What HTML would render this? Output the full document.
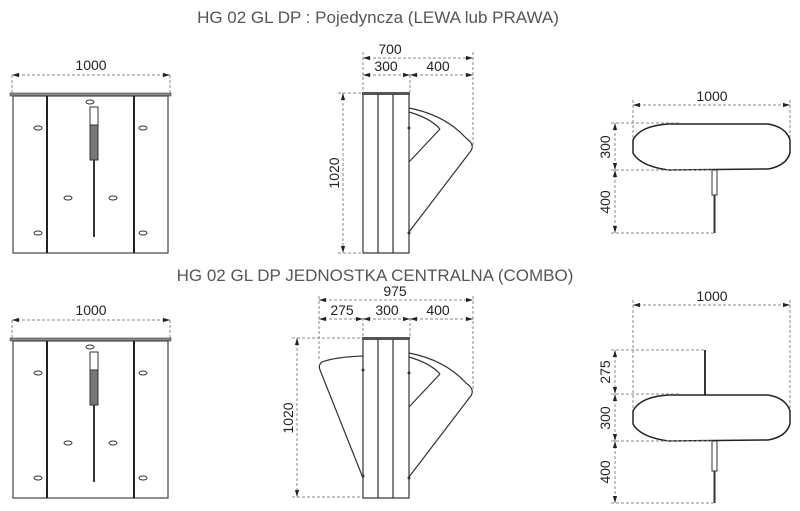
<!DOCTYPE html>
<html><head><meta charset="utf-8"><style>
html,body{margin:0;padding:0;background:#fff;}
svg{display:block;font-family:"Liberation Sans",Arial,sans-serif;}
.d{stroke:#888;stroke-width:1;stroke-dasharray:3,2;fill:none}
.l{stroke:#333;stroke-width:1.2;fill:none}
.t{font-size:14px;fill:#222}
.o{fill:#fff;stroke:#333;stroke-width:1}
</style></head><body>
<svg width="800" height="511" viewBox="0 0 800 511" xmlns="http://www.w3.org/2000/svg">
<defs>
<marker id="a" viewBox="0 0 10 10" refX="10" refY="5" markerWidth="7" markerHeight="7" orient="auto-start-reverse"><path d="M0,2L10,5L0,8z" fill="#222"/></marker>
<g id="front">
  <line class="d" x1="12" y1="75" x2="12" y2="94"/><line class="d" x1="170" y1="75" x2="170" y2="94"/>
  <line class="d" x1="12" y1="75" x2="170" y2="75" marker-start="url(#a)" marker-end="url(#a)"/>
  <text class="t" x="91" y="70" text-anchor="middle">1000</text>
  <rect x="10" y="93" width="161" height="3" fill="#888" stroke="#444" stroke-width="0.6"/>
  <rect x="13" y="96" width="155" height="157" fill="#fff" stroke="#444" stroke-width="1.2"/>
  <line x1="47" y1="96" x2="47" y2="253" stroke="#222" stroke-width="2"/>
  <line x1="134" y1="96" x2="134" y2="253" stroke="#222" stroke-width="2"/>
  <ellipse class="o" cx="90" cy="102" rx="4" ry="2"/>
  <ellipse class="o" cx="38" cy="128" rx="4" ry="2"/><ellipse class="o" cx="143" cy="128" rx="4" ry="2"/>
  <ellipse class="o" cx="68" cy="198" rx="4" ry="2"/><ellipse class="o" cx="113" cy="198" rx="4" ry="2"/>
  <ellipse class="o" cx="38" cy="233" rx="4" ry="2"/><ellipse class="o" cx="143" cy="233" rx="4" ry="2"/>
  <rect x="90" y="107" width="8" height="18" fill="#fff" stroke="#333"/>
  <rect x="90" y="125" width="8" height="35" fill="#777" stroke="#333"/>
  <line x1="94" y1="160" x2="94" y2="237" stroke="#333" stroke-width="2"/>
</g>
<g id="wingR">
  <path class="l" d="M409,108 Q445,115 466,138 Q476,145 470,152 L409,232"/>
  <path class="l" d="M440,129 L409,162"/>
  <path class="l" d="M409,112 Q430,118 440,129"/>
</g>
<g id="col">
  <rect x="363" y="94" width="46" height="159" fill="#fff" stroke="#333" stroke-width="1.2"/>
  <rect x="362" y="92" width="48" height="3" fill="#555"/>
  <line class="l" x1="378" y1="94" x2="378" y2="253"/><line class="l" x1="393" y1="94" x2="393" y2="253"/>
  <circle cx="409" cy="128" r="1.5" fill="#333"/><circle cx="409" cy="233" r="1.5" fill="#333"/>
</g>
</defs>
<text x="378" y="23" text-anchor="middle" style="font-size:17px;fill:#555">HG 02 GL DP : Pojedyncza (LEWA lub PRAWA)</text>
<text x="375" y="281" text-anchor="middle" style="font-size:17px;fill:#555">HG 02 GL DP JEDNOSTKA CENTRALNA (COMBO)</text>

<use href="#front"/>
<use href="#front" transform="translate(0,245)"/>

<use href="#col"/><use href="#wingR"/>
<line class="d" x1="363" y1="52" x2="363" y2="92"/><line class="d" x1="473" y1="52" x2="473" y2="145"/><line class="d" x1="410" y1="75" x2="410" y2="92"/>
<line class="d" x1="363" y1="58" x2="473" y2="58" marker-start="url(#a)" marker-end="url(#a)"/>
<line class="d" x1="363" y1="75" x2="410" y2="75" marker-start="url(#a)" marker-end="url(#a)"/>
<line class="d" x1="410" y1="75" x2="473" y2="75" marker-start="url(#a)" marker-end="url(#a)"/>
<text class="t" x="390" y="54" text-anchor="middle">700</text>
<text class="t" x="386" y="71" text-anchor="middle">300</text>
<text class="t" x="438" y="71" text-anchor="middle">400</text>
<line class="d" x1="338" y1="93" x2="362" y2="93"/><line class="d" x1="338" y1="253" x2="362" y2="253"/>
<line class="d" x1="343" y1="93" x2="343" y2="253" marker-start="url(#a)" marker-end="url(#a)"/>
<text class="t" transform="translate(339,173) rotate(-90)" text-anchor="middle">1020</text>

<g transform="translate(0,245)"><use href="#col"/><use href="#wingR"/></g>
<path class="l" d="M363,356 Q335,357 322,362 Q318,365 320,370 L363,478"/>
<circle cx="363" cy="370" r="1.5" fill="#333"/><circle cx="363" cy="476" r="1.5" fill="#333"/>
<line class="d" x1="319" y1="296" x2="319" y2="360"/><line class="d" x1="473" y1="296" x2="473" y2="390"/>
<line class="d" x1="363" y1="318" x2="363" y2="337"/><line class="d" x1="410" y1="318" x2="410" y2="337"/>
<line class="d" x1="319" y1="300" x2="473" y2="300" marker-start="url(#a)" marker-end="url(#a)"/>
<line class="d" x1="319" y1="319" x2="363" y2="319" marker-start="url(#a)" marker-end="url(#a)"/>
<line class="d" x1="363" y1="319" x2="410" y2="319" marker-start="url(#a)" marker-end="url(#a)"/>
<line class="d" x1="410" y1="319" x2="473" y2="319" marker-start="url(#a)" marker-end="url(#a)"/>
<text class="t" x="395" y="296" text-anchor="middle">975</text>
<text class="t" x="342" y="315" text-anchor="middle">275</text>
<text class="t" x="387" y="315" text-anchor="middle">300</text>
<text class="t" x="438" y="315" text-anchor="middle">400</text>
<line class="d" x1="292" y1="338" x2="362" y2="338"/><line class="d" x1="292" y1="497" x2="362" y2="497"/>
<line class="d" x1="297" y1="338" x2="297" y2="497" marker-start="url(#a)" marker-end="url(#a)"/>
<text class="t" transform="translate(293,418) rotate(-90)" text-anchor="middle">1020</text>

<line class="d" x1="633" y1="100" x2="633" y2="140"/><line class="d" x1="790" y1="100" x2="790" y2="140"/>
<line class="d" x1="633" y1="105" x2="790" y2="105" marker-start="url(#a)" marker-end="url(#a)"/>
<text class="t" x="712" y="101" text-anchor="middle">1000</text>
<path d="M668,124 L768,124 Q786,127 790,140 L790,153 Q786,166 768,169 L668,170 Q640,166 633,153 L633,140 Q640,126 668,124Z" fill="#fff" stroke="#222" stroke-width="1.5"/>
<rect x="712" y="170" width="5" height="25" fill="#fff" stroke="#333"/>
<line x1="714.5" y1="195" x2="714.5" y2="233" stroke="#333" stroke-width="2"/>
<line class="d" x1="611" y1="123" x2="680" y2="123"/><line class="d" x1="611" y1="170" x2="712" y2="170"/><line class="d" x1="611" y1="233" x2="714" y2="233"/>
<line class="d" x1="615" y1="123" x2="615" y2="170" marker-start="url(#a)" marker-end="url(#a)"/>
<line class="d" x1="615" y1="170" x2="615" y2="233" marker-start="url(#a)" marker-end="url(#a)"/>
<text class="t" transform="translate(610,147) rotate(-90)" text-anchor="middle">300</text>
<text class="t" transform="translate(610,202) rotate(-90)" text-anchor="middle">400</text>

<line class="d" x1="633" y1="300" x2="633" y2="410"/><line class="d" x1="790" y1="300" x2="790" y2="410"/>
<line class="d" x1="633" y1="305" x2="790" y2="305" marker-start="url(#a)" marker-end="url(#a)"/>
<text class="t" x="712" y="301" text-anchor="middle">1000</text>
<line x1="705" y1="350" x2="705" y2="395" stroke="#333" stroke-width="2"/>
<path d="M668,395 L768,395 Q786,398 790,411 L790,424 Q786,437 768,440 L668,441 Q640,437 633,424 L633,411 Q640,397 668,395Z" fill="#fff" stroke="#222" stroke-width="1.5"/>
<rect x="712" y="441" width="5" height="30" fill="#fff" stroke="#333"/>
<line x1="714.5" y1="471" x2="714.5" y2="503" stroke="#333" stroke-width="2"/>
<line class="d" x1="611" y1="350" x2="705" y2="350"/><line class="d" x1="611" y1="394" x2="680" y2="394"/><line class="d" x1="611" y1="441" x2="712" y2="441"/><line class="d" x1="611" y1="503" x2="714" y2="503"/>
<line class="d" x1="615" y1="350" x2="615" y2="394" marker-start="url(#a)" marker-end="url(#a)"/>
<line class="d" x1="615" y1="394" x2="615" y2="441" marker-start="url(#a)" marker-end="url(#a)"/>
<line class="d" x1="615" y1="441" x2="615" y2="503" marker-start="url(#a)" marker-end="url(#a)"/>
<text class="t" transform="translate(610,372) rotate(-90)" text-anchor="middle">275</text>
<text class="t" transform="translate(610,418) rotate(-90)" text-anchor="middle">300</text>
<text class="t" transform="translate(610,472) rotate(-90)" text-anchor="middle">400</text>
</svg>
</body></html>
